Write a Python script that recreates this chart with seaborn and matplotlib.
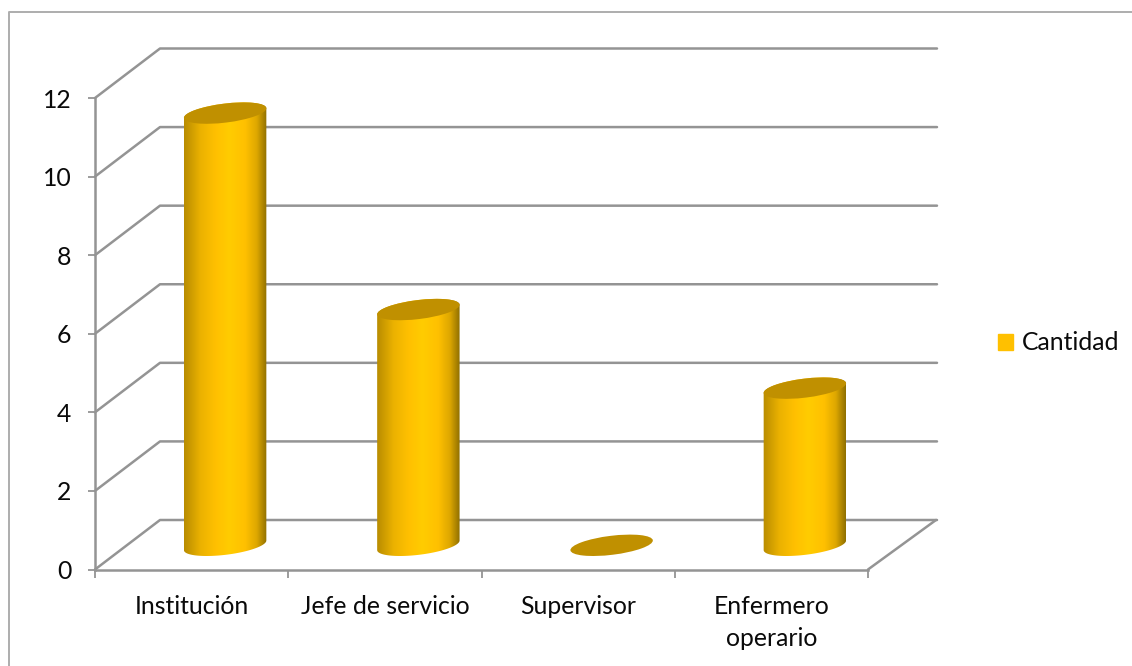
import numpy as np
import pandas as pd
import matplotlib
matplotlib.use('Agg')
import matplotlib.pyplot as plt
import seaborn as sns
from matplotlib.colors import LinearSegmentedColormap
from matplotlib.lines import Line2D
from matplotlib.patches import Ellipse
from matplotlib.path import Path
from matplotlib.transforms import IdentityTransform

categorias = ['Institución', 'Jefe de servicio', 'Supervisor', 'Enfermero\noperario']
cantidad = [11, 6, 0, 4]
y_ticks = [0, 2, 4, 6, 8, 10, 12]
serie = 'Cantidad'

W, H = 1132, 666
GRIS = '#949494'
FUENTE = 17.8

sns.set_style('white')
plt.rcParams['font.family'] = ['Lato', 'DejaVu Sans']

fig = plt.figure(figsize=(W / 100, H / 100), dpi=100)
# plano frontal del grafico 3D, en pixeles de la imagen
ax = fig.add_axes([95 / W, (H - 569.5) / H, 773 / W, 471.5 / H])

data = pd.DataFrame({'categoria': categorias, 'cantidad': cantidad})
sns.barplot(data=data, x='categoria', y='cantidad', color='#FFC000', width=0.42,
            saturation=1, linewidth=0, label=serie, ax=ax)

ax.set_xlim(-0.5, 3.5)
ax.set_ylim(0, 12)
ax.set_yticks(y_ticks)
ax.set_xticks(np.arange(len(categorias) + 1) - 0.5, minor=True)
ax.set_xlabel('')
ax.set_ylabel('')
ax.patch.set_visible(False)

for s in ['top', 'right']:
    ax.spines[s].set_visible(False)
for s in ['left', 'bottom']:
    ax.spines[s].set_color(GRIS)
    ax.spines[s].set_linewidth(1.8)

ax.tick_params(axis='y', left=True, length=5, width=1.3, color=GRIS, pad=12,
               labelsize=FUENTE, labelcolor='#0a0a0a')
ax.tick_params(axis='x', which='major', bottom=False, pad=15, labelsize=FUENTE,
               labelcolor='#0a0a0a')
ax.tick_params(axis='x', which='minor', bottom=True, length=6, width=1.3, color=GRIS)
for etiqueta in ax.get_xticklabels():
    etiqueta.set_linespacing(1.45)

fig.canvas.draw()
identidad = IdentityTransform()


def linea(xs, ys, **kw):
    ax.add_line(Line2D(xs, ys, transform=identidad, clip_on=False, color=GRIS,
                       linewidth=1.8, zorder=0.5, **kw))


# paredes: lineas de division desde la escala del eje y
for v in y_ticks:
    x0, y0 = ax.transData.transform((-0.5, v))
    x1, _ = ax.transData.transform((3.5, v))
    linea([x0, x0 + 65, x1 + 69], [y0, y0 + 49.5, y0 + 49.5])
x0, y0 = ax.transData.transform((3.5, 0))
linea([x0, x0 + 68], [y0, y0 + 49.5])

# cilindros, a media profundidad
gradiente = LinearSegmentedColormap.from_list('cilindro', [
    (0.0, '#B88C00'), (0.2, '#EBB200'), (0.38, '#FFC000'), (0.55, '#FFCC00'),
    (0.74, '#FFC000'), (0.88, '#DDA700'), (1.0, '#8F6F00')])
A, B, PHI = 41.5, 9.5, np.radians(7)
DX, DY = 33.5, 24.2


def arco(cx, cy, t0, t1):
    t = np.linspace(t0, t1, 60)
    xs = cx + A * np.cos(t) * np.cos(PHI) - B * np.sin(t) * np.sin(PHI)
    ys = cy + A * np.cos(t) * np.sin(PHI) + B * np.sin(t) * np.cos(PHI)
    return np.column_stack([xs, ys])


t_der = np.arctan2(-B * np.sin(PHI), A * np.cos(PHI))
franja = np.linspace(0, 1, 256)[None, :]

for barra in list(ax.patches):
    cx = barra.get_x() + barra.get_width() / 2
    px, py0 = ax.transData.transform((cx, 0))
    _, py1 = ax.transData.transform((cx, barra.get_height()))
    px += DX
    py0 += DY
    py1 += DY
    barra.set_visible(False)
    if barra.get_height() > 0:
        puntos = np.vstack([arco(px, py1, t_der, t_der + np.pi),
                            arco(px, py0, t_der + np.pi, t_der + 2 * np.pi)])
        camino = Path(np.vstack([puntos, puntos[:1]]), closed=True)
        im = ax.imshow(franja, cmap=gradiente, aspect='auto', zorder=2,
                       extent=[px - A, px + A, py0 - 20, py1 + 20],
                       transform=identidad)
        im.set_clip_path(camino, identidad)
    ax.add_patch(Ellipse((px, py1), 2 * A, 2 * B, angle=np.degrees(PHI), color='#C09000',
                         linewidth=0, transform=identidad, clip_on=False, zorder=3))

ax.set_xlim(-0.5, 3.5)
ax.set_ylim(0, 12)

# marco exterior del area del grafico
fig.add_artist(Line2D([8.5, 8.5, W], [0, H - 11.5, H - 11.5], transform=identidad,
                      color='#ADADAD', linewidth=1.4))

ax.legend(handles=[plt.Rectangle((0, 0), 1, 1, color='#FFC000', label=serie)], frameon=False,
          loc='center left', bbox_to_anchor=(991 / W, (H - 343) / H),
          bbox_transform=fig.transFigure, fontsize=FUENTE, labelcolor='#0a0a0a',
          handlelength=0.6, handleheight=0.6, handletextpad=0.36, borderpad=0, borderaxespad=0.3)

fig.savefig('out.png', dpi=100)
